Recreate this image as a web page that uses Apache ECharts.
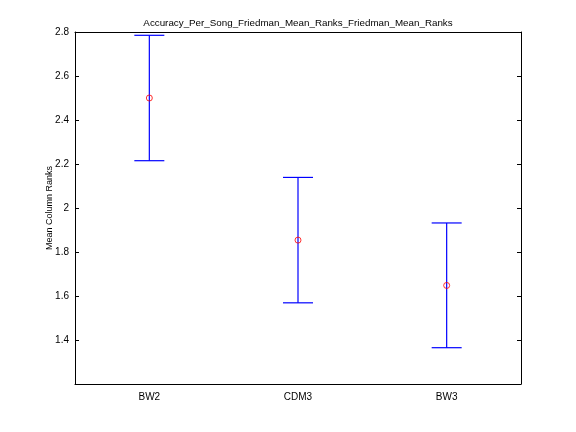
<!DOCTYPE html>
<html>
<head>
<meta charset="utf-8">
<script src="https://cdn.jsdelivr.net/npm/echarts@6/dist/echarts.min.js"></script>
<style>
  html, body { margin: 0; padding: 0; background: #fff; }
  #chart { width: 576px; height: 432px; }
</style>
</head>
<body>
<div id="chart"></div>
<script>
// 数据
const groups = ['BW2', 'CDM3', 'BW3'];
const meanRanks = [2.5, 1.854, 1.648];
const lowerBounds = [2.215, 1.569, 1.365];
const upperBounds = [2.785, 2.139, 1.932];

const FONT = 'Liberation Sans';
const axisLineStyle = { color: '#000', width: 1 };

const chart = echarts.init(document.getElementById('chart'));

chart.setOption({
  animation: false,
  backgroundColor: '#fff',
  title: {
    text: 'Accuracy_Per_Song_Friedman_Mean_Ranks_Friedman_Mean_Ranks',
    left: 293,
    top: 13,
    textAlign: 'center',
    textStyle: { fontFamily: FONT, fontSize: 9.8, fontWeight: 'normal', color: '#000' }
  },
  grid: { left: 75, right: 55, top: 32, bottom: 48 },
  xAxis: [{
    type: 'category',
    data: groups,
    boundaryGap: true,
    axisLine: { lineStyle: axisLineStyle },
    axisTick: { inside: true, alignWithLabel: true, length: 4, lineStyle: axisLineStyle },
    axisLabel: { fontFamily: FONT, fontSize: 10, color: '#000', margin: 8 },
    splitLine: { show: false }
  }, {
    type: 'category',
    data: groups,
    position: 'top',
    boundaryGap: true,
    axisLine: { lineStyle: axisLineStyle },
    axisTick: { inside: true, alignWithLabel: true, length: 4, lineStyle: axisLineStyle },
    axisLabel: { show: false },
    splitLine: { show: false }
  }],
  yAxis: [{
    type: 'value',
    min: 1.2,
    max: 2.8,
    interval: 0.2,
    name: 'Mean Column Ranks',
    nameLocation: 'middle',
    nameGap: 21,
    nameMoveOverlap: false,
    nameTextStyle: { fontFamily: FONT, fontSize: 9, color: '#000' },
    axisLine: { show: true, lineStyle: axisLineStyle },
    axisTick: { show: true, inside: true, length: 4, lineStyle: axisLineStyle },
    axisLabel: {
      fontFamily: FONT, fontSize: 10, color: '#000', margin: 6,
      formatter: v => (Math.abs(v - 1.2) < 1e-6 ? '' : String(+v.toFixed(1)))
    },
    splitLine: { show: false }
  }, {
    type: 'value',
    min: 1.2,
    max: 2.8,
    interval: 0.2,
    position: 'right',
    axisLine: { show: true, lineStyle: axisLineStyle },
    axisTick: { show: true, inside: true, length: 4, lineStyle: axisLineStyle },
    axisLabel: { show: false },
    splitLine: { show: false }
  }],
  series: [{
    // 误差线
    type: 'custom',
    renderItem: (params, api) => {
      const x = api.value(0);
      const top = api.coord([x, api.value(2)]);
      const bottom = api.coord([x, api.value(1)]);
      const half = 15;
      const style = { stroke: '#0000ff', lineWidth: 1.2 };
      return {
        type: 'group',
        children: [
          { type: 'line', shape: { x1: top[0], y1: top[1], x2: bottom[0], y2: bottom[1] }, style },
          { type: 'line', shape: { x1: top[0] - half, y1: top[1], x2: top[0] + half, y2: top[1] }, style },
          { type: 'line', shape: { x1: bottom[0] - half, y1: bottom[1], x2: bottom[0] + half, y2: bottom[1] }, style }
        ]
      };
    },
    encode: { x: 0, y: [1, 2] },
    data: groups.map((g, i) => [i, lowerBounds[i], upperBounds[i]]),
    z: 2
  }, {
    // 平均秩
    type: 'scatter',
    symbol: 'circle',
    symbolSize: 6,
    itemStyle: { color: 'rgba(0,0,0,0)', borderColor: '#ff0000', borderWidth: 1 },
    data: groups.map((g, i) => [i, meanRanks[i]]),
    z: 3
  }]
});
</script>
</body>
</html>
